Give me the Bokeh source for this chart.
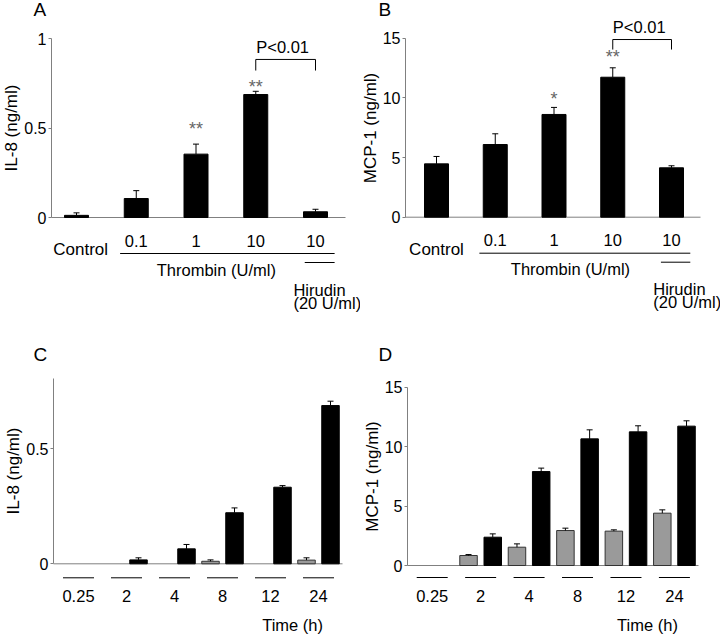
import math
from bokeh.plotting import figure
from bokeh.layouts import row, column
from bokeh.models import Range1d, FixedTicker, NumeralTickFormatter
from bokeh.core.properties import value
from bokeh.embed import file_html
from bokeh.resources import INLINE

FONT = "Liberation Sans"
nan = float("nan")

# ---------------- data ----------------
dose_labels = ["0.1", "1", "10", "10"]           # Thrombin doses (U/ml); last one + Hirudin
il8_dose = [0.012, 0.106, 0.354, 0.687, 0.032]
il8_dose_err = [0.026, 0.150, 0.410, 0.705, 0.046]
il8_dose_sig = ["", "", "**", "**", ""]
il8_dose_sig_y = [nan, nan, 0.514, 0.749, nan]

mcp_dose = [4.47, 6.09, 8.61, 11.73, 4.14]
mcp_dose_err = [5.09, 6.99, 9.20, 12.52, 4.31]
mcp_dose_sig = ["", "", "*", "**", ""]
mcp_dose_sig_y = [nan, nan, 10.28, 13.72, nan]

times = ["0.25", "2", "4", "8", "12", "24"]      # Time (h)
il8_ctrl = [0, 0, 0, 0.011, 0, 0.016]
il8_ctrl_err = [nan, nan, nan, 0.017, nan, 0.026]
il8_thr = [0, 0.017, 0.065, 0.222, 0.333, 0.688]
il8_thr_err = [nan, 0.026, 0.084, 0.243, 0.340, 0.707]

mcp_ctrl = [0, 0.84, 1.54, 2.94, 2.89, 4.40]
mcp_ctrl_err = [nan, 0.92, 1.82, 3.14, 3.00, 4.68]
mcp_thr = [0, 2.38, 7.90, 10.65, 11.24, 11.72]
mcp_thr_err = [nan, 2.66, 8.19, 11.41, 11.75, 12.17]

# ---------------- style ----------------
AX = "#808080"
GRAY_BAR = "#9a9a9a"
TXT = dict(text_font=value(FONT), text_font_size="16.5px", text_color="black")


class Panel:
    """One lettered panel; page coordinates are pixels inside the figure."""

    def __init__(self, width, height, axis_page, x_origin, x_step, zero_page, ppu,
                 ylabel, ticks, ybound):
        self.x_origin, self.x_step, self.zero, self.ppu = x_origin, x_step, zero_page, ppu
        xr = Range1d(self.px_x(0), self.px_x(width))
        yr = Range1d(self.px_y(height), self.px_y(0))
        p = figure(width=width, height=height, x_range=xr, y_range=yr,
                   x_axis_type=None, output_backend="svg", toolbar_location=None,
                   title=None, min_border_left=0, min_border_right=0,
                   min_border_top=0, min_border_bottom=0)
        p.outline_line_color = None
        p.grid.visible = False
        p.background_fill_color = "white"
        p.border_fill_color = "white"
        ax = p.yaxis[0]
        ax.fixed_location = self.px_x(axis_page)
        ax.ticker = FixedTicker(ticks=ticks)
        ax.bounds = ybound
        ax.formatter = NumeralTickFormatter(format="0.[0]")
        ax.axis_label = ylabel
        ax.axis_label_text_font = FONT
        ax.axis_label_text_font_size = "17px"
        ax.axis_label_text_font_style = "normal"
        ax.axis_label_text_color = "black"
        ax.axis_label_standoff = 0
        ax.major_label_text_font = FONT
        ax.major_label_text_font_size = "16px"
        ax.major_label_text_color = "black"
        ax.major_label_standoff = 2
        ax.axis_line_color = AX
        ax.major_tick_line_color = AX
        ax.major_tick_in = 0
        ax.major_tick_out = 3
        ax.minor_tick_line_color = None
        self.p = p
        self.xr = xr
        self.axis_x = self.px_x(axis_page)

    def px_x(self, page):
        return (page - self.x_origin) / self.x_step

    def px_y(self, page):
        return (self.zero - page) / self.ppu

    def baseline(self, right_page):
        self.p.segment(x0=[self.axis_x], y0=[0], x1=[self.px_x(right_page)], y1=[0],
                       line_color=AX, line_width=1)

    def bars(self, xs, vals, errs, width, color, outline):
        p = self.p
        lc = [outline if v > 0 else None for v in vals]
        p.vbar(x=xs, top=vals, bottom=0, width=width, fill_color=color,
               line_color=lc, line_width=1)
        cap = 3.0 / self.x_step
        p.segment(x0=xs, y0=vals, x1=xs, y1=errs, line_color="black", line_width=1)
        p.segment(x0=[x - cap for x in xs], y0=errs, x1=[x + cap for x in xs], y1=errs,
                  line_color="black", line_width=1)

    def letter(self, text, left_page, center_page):
        self.p.text(x=[self.px_x(left_page)], y=[self.px_y(center_page)], text=[text],
                    text_align="left", text_baseline="middle", text_font=value(FONT),
                    text_font_size="19px", text_color="black")


def dose_panel(P, vals, errs, sig, sig_y, bracket, hir_left, thr_center, ctrl_x, base_right):
    p = P.p
    idx = list(range(len(vals)))
    P.baseline(base_right)
    P.bars(idx, vals, errs, 24.0 / P.x_step, "black", "black")
    p.text(x=idx, y=sig_y, text=sig, y_offset=4, text_align="center",
           text_baseline="middle", text_font=value(FONT), text_font_size="18px",
           text_color="#666666")
    # p-value bracket between 10 U/ml thrombin and thrombin + hirudin
    ytop, ybot, ytxt = bracket
    p.segment(x0=[3, 3, 4], y0=[ytop, ytop, ytop], x1=[4, 3, 4], y1=[ytop, ybot, ybot],
              line_color="black", line_width=1)
    p.text(x=[3.45], y=[ytxt], text=["P<0.01"], text_align="center",
           text_baseline="middle", **TXT)
    # category labels below the axis
    p.text(x=idx[1:], y=[0] * 4, text=dose_labels, y_offset=23, text_align="center",
           text_baseline="middle", **TXT)
    p.text(x=[ctrl_x], y=[0], text=["Control"], y_offset=32, text_align="center",
           text_baseline="middle", text_font=value(FONT), text_font_size="17px",
           text_color="black")
    yl1 = P.px_y(P.zero + 36)
    yl2 = P.px_y(P.zero + 45)
    p.segment(x0=[1 - 0.27, 4 - 0.18], y0=[yl1, yl2], x1=[4 + 0.32, 4 + 0.32], y1=[yl1, yl2],
              line_color="black", line_width=1)
    p.text(x=[thr_center], y=[0], text=["Thrombin (U/ml)"], y_offset=52,
           text_align="center", text_baseline="middle", **TXT)
    p.text(x=[hir_left, hir_left], y=[0, 0], text=["Hirudin", "(20 U/ml)"],
           y_offset=[72, 85], text_align="left", text_baseline="middle", **TXT)


def time_panel(P, ctrl, ctrl_err, thr, thr_err, lab_off, line_off, time_x, time_off, base_right):
    p = P.p
    n = len(times)
    xg = [2 * g for g in range(n)]
    xb = [2 * g + 1 for g in range(n)]
    xc = [2 * g + 0.5 for g in range(n)]
    P.baseline(base_right)
    w = 17.5 / P.x_step
    P.bars(xg, ctrl, ctrl_err, w, GRAY_BAR, "#333333")
    P.bars(xb, thr, thr_err, w, "black", "black")
    half = 15.5 / P.x_step
    yl = P.px_y(P.zero + line_off)
    p.segment(x0=[c - half for c in xc], y0=[yl] * n, x1=[c + half for c in xc], y1=[yl] * n,
              line_color="black", line_width=1)
    p.text(x=xc, y=[0] * n, text=times, y_offset=lab_off, text_align="center",
           text_baseline="middle", **TXT)
    p.text(x=[time_x], y=[0], text=["Time (h)"], y_offset=time_off, text_align="center",
           text_baseline="middle", **TXT)


# ---- Panel A ----  (figure at page x 0..360, y 0..320)
A = Panel(width=360, height=320, axis_page=51,
          x_origin=76, x_step=59.75, zero_page=217, ppu=179,
          ylabel="IL-8 (ng/ml)", ticks=[0, 0.5, 1], ybound=(0, 1))
dose_panel(A, il8_dose, il8_dose_err, il8_dose_sig, il8_dose_sig_y,
           bracket=(0.883, 0.821, 0.95), hir_left=3.63, thr_center=2.34, ctrl_x=0.07,
           base_right=345)
A.letter("A", 33, 9)

# ---- Panel B ----  (figure at page x 360..720 -> local origin shifted by 360)
B = Panel(width=360, height=320, axis_page=45,
          x_origin=76, x_step=58.75, zero_page=216.7, ppu=11.933,
          ylabel="MCP-1 (ng/ml)", ticks=[0, 5, 10, 15], ybound=(0, 15))
dose_panel(B, mcp_dose, mcp_dose_err, mcp_dose_sig, mcp_dose_sig_y,
           bracket=(14.89, 14.05, 15.9), hir_left=3.69, thr_center=2.28, ctrl_x=0.0,
           base_right=340)
B.letter("B", 18, 9)

# ---- Panel C ----  (figure at page y 320..634 -> local origin shifted by 320)
C = Panel(width=360, height=314, axis_page=53,
          x_origin=66, x_step=24.0, zero_page=243.3, ppu=230,
          ylabel="IL-8 (ng/ml)", ticks=[0, 0.5], ybound=(0, 0.804))
time_panel(C, il8_ctrl, il8_ctrl_err, il8_thr, il8_thr_err,
           lab_off=32, line_off=14, time_x=9.42, time_off=61, base_right=342)
C.letter("C", 33, 34)

# ---- Panel D ----
D = Panel(width=360, height=314, axis_page=47,
          x_origin=59.6, x_step=24.22, zero_page=245, ppu=11.89,
          ylabel="MCP-1 (ng/ml)", ticks=[0, 5, 10, 15], ybound=(0, 15))
time_panel(D, mcp_ctrl, mcp_ctrl_err, mcp_thr, mcp_thr_err,
           lab_off=30, line_off=12, time_x=9.39, time_off=59, base_right=338)
D.letter("D", 18, 34)

layout = column(row(A.p, B.p), row(C.p, D.p))
open("out.html", "w").write(file_html(layout, INLINE))
